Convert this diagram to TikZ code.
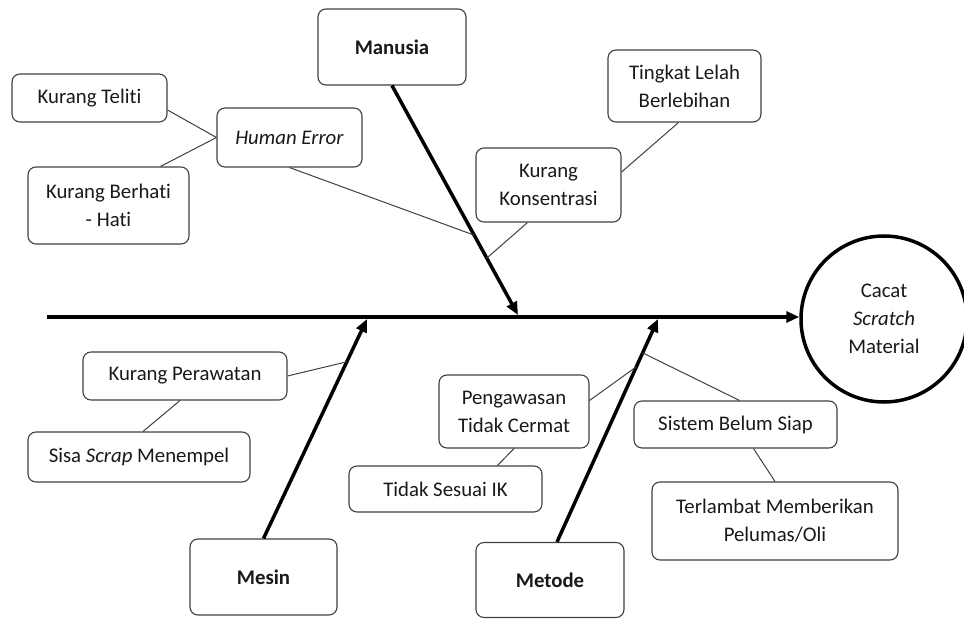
\documentclass[tikz,border=0pt]{standalone}
\usepackage{fontspec}
\setmainfont{Carlito}[Ligatures=NoCommon]
\usetikzlibrary{arrows.meta,calc}

\begin{document}
\begin{tikzpicture}[x=1pt, y=-1pt, >={Triangle[length=13pt,width=11pt]},
   font=\fontsize{20.8}{28}\selectfont, text=black!90,
   cause/.style={draw=black!75, line width=1.1pt, rounded corners=8pt,
                 align=center, inner sep=0pt},
   effect/.style={draw, circle, line width=3.5pt, minimum size=166pt,
                  align=center, inner sep=0pt},
   bone/.style={->, line width=3.5pt},
   twig/.style={draw=black!75, line width=1pt}]
  \useasboundingbox (0,0) rectangle (964,620);

  % effect and spine
  \node[effect] (cacat) at (884,319) {Cacat\\\emph{Scratch}\\Material};
  \coordinate (spine) at (47,317);
  \draw[bone] (spine) -- (spine -| cacat.west);

  % main causes
  \node[cause, minimum width=148, minimum height=76] (manusia) at (392,47)  {\textbf{Manusia}};
  \node[cause, minimum width=147, minimum height=76] (mesin)   at (263.5,577) {\textbf{Mesin}};
  \node[cause, minimum width=148, minimum height=75] (metode)  at (550,580) {\textbf{Metode}};
  \coordinate (mtip) at (518,315);
  \coordinate (stip) at (367,319);
  \coordinate (dtip) at (658,319);
  \coordinate (dfoot) at ($(metode.north)+(7,0)$);
  \draw[bone] (manusia.south) -- (mtip);
  \draw[bone] (mesin.north) -- (stip);
  \draw[bone] (dfoot) -- (dtip);

  % Manusia
  \node[cause, minimum width=155, minimum height=48] (teliti)  at (89.5,98)   {Kurang Teliti};
  \node[cause, minimum width=145, minimum height=59] (human)   at (289.5,137.5) {\emph{Human Error}};
  \node[cause, minimum width=161, minimum height=77] (berhati) at (108.5,205.5) {Kurang Berhati\\- Hati};
  \node[cause, minimum width=153, minimum height=72] (lelah)   at (684.5,86)  {Tingkat Lelah\\Berlebihan};
  \node[cause, minimum width=145, minimum height=74] (konsen)  at (548.5,185) {Kurang\\Konsentrasi};
  \draw[twig] ($(teliti.east)+(0,12)$) -- (human.west);
  \draw[twig] ($(berhati.north)+(52,0)$) -- (human.west);
  \draw[twig] (human.south) -- ($(manusia.south)!0.652!(mtip)$);
  \draw[twig] ($(lelah.south)+(-6,0)$) -- ($(konsen.east)+(0,-13)$);
  \draw[twig] ($(konsen.south)+(-21,0)$) -- ($(manusia.south)!0.752!(mtip)$);

  % Mesin
  \node[cause, minimum width=204, minimum height=48] (rawat) at (185,376) {Kurang Perawatan};
  \node[cause, minimum width=222, minimum height=50] (scrap) at (139,457) {Sisa \emph{Scrap} Menempel};
  \draw[twig] (rawat.east) -- ($(mesin.north)!0.805!(stip)$);
  \draw[twig] ($(scrap.north)+(4,0)$) -- ($(rawat.south)+(-5,0)$);

  % Metode
  \node[cause, minimum width=150, minimum height=73] (awas)   at (514,411.5) {Pengawasan\\Tidak Cermat};
  \node[cause, minimum width=193, minimum height=46] (sesuai) at (445.5,489) {Tidak Sesuai IK};
  \node[cause, minimum width=203, minimum height=47] (sistem) at (735.5,424.5) {Sistem Belum Siap};
  \node[cause, minimum width=246, minimum height=78] (pelumas) at (775,521) {Terlambat Memberikan\\Pelumas/Oli};
  \draw[twig] ($(awas.east)+(0,-11)$) -- ($(dfoot)!0.786!(dtip)$);
  \draw[twig] ($(sesuai.north)+(52,0)$) -- (awas.south);
  \draw[twig] ($(sistem.north)+(4,0)$) -- ($(dfoot)!0.848!(dtip)$);
  \draw[twig] ($(sistem.south)+(18,0)$) -- (pelumas.north);
\end{tikzpicture}
\end{document}
